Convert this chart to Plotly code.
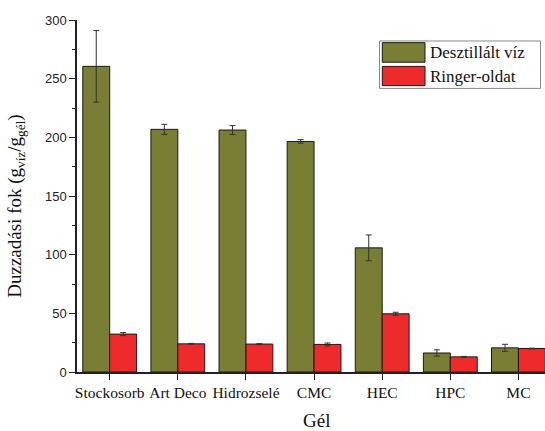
import plotly.graph_objects as go

categories = ["Stockosorb", "Art Deco", "Hidrozselé", "CMC", "HEC", "HPC", "MC"]
desztillalt = [260.5, 206.8, 206.2, 196.5, 105.8, 16.2, 20.6]
desztillalt_err = [30.5, 4.3, 3.8, 1.5, 11.0, 2.7, 3.0]
ringer = [32.3, 24.0, 23.8, 23.5, 49.6, 12.9, 20.0]
ringer_err = [1.3, 0.4, 0.4, 1.2, 1.3, 0.4, 0.3]
series_names = ["Desztillált víz", "Ringer-oldat"]
colors = ["#7a7d34", "#ee2a2a"]

W, H = 545, 431
L, R, T, B = 77, 0, 20, 58.5
pw, ph = W - L - R, H - T - B

def px2paper(x, y):
    return (x - L) / pw, (H - B - y) / ph

fig = go.Figure()
for name, vals, errs, col in [(series_names[0], desztillalt, desztillalt_err, colors[0]),
                              (series_names[1], ringer, ringer_err, colors[1])]:
    fig.add_trace(go.Bar(
        x=categories, y=vals, name=name,
        marker=dict(color=col, line=dict(color="#1a1a1a", width=1)),
        error_y=dict(type="data", array=errs, visible=True, color="#333333", thickness=1, width=3),
        showlegend=False,
    ))

serif = "Liberation Serif, Times New Roman, serif"
sans = "Liberation Sans, Arial, sans-serif"

fig.update_layout(
    width=W, height=H,
    margin=dict(l=L, r=R, t=T, b=B, autoexpand=False),
    paper_bgcolor="white", plot_bgcolor="white",
    barmode="group", bargap=0.21, bargroupgap=0,
    xaxis=dict(
        range=[-0.48, 6.39], showline=True, linecolor="#222", linewidth=1.5,
        ticks="outside", ticklen=6, tickcolor="#222", tickwidth=1,
        tickfont=dict(family=serif, size=15.5, color="#111"),
        showgrid=False, zeroline=False, automargin=False,
    ),
    yaxis=dict(
        range=[0, 300], showline=True, linecolor="#222", linewidth=1.5,
        tickvals=[0, 50, 100, 150, 200, 250, 300],
        ticks="outside", ticklen=6, tickcolor="#222", tickwidth=1,
        minor=dict(tickvals=[25, 75, 125, 175, 225, 275], ticks="outside", ticklen=3, tickcolor="#222"),
        tickfont=dict(family=sans, size=13, color="#222"),
        showgrid=False, zeroline=False, automargin=False,
    ),
)

# axis titles
gx, gy = px2paper(316, 421)
fig.add_annotation(xref="paper", yref="paper", x=gx, y=gy, text="Gél", showarrow=False,
                   xanchor="center", yanchor="middle",
                   font=dict(family=serif, size=19, color="#111"))
yx, yy = px2paper(16, 207)
fig.add_annotation(xref="paper", yref="paper", x=yx, y=yy, textangle=-90, showarrow=False,
                   text="Duzzadási fok (g<sub>víz</sub>/g<sub>gél</sub>)",
                   xanchor="center", yanchor="middle",
                   font=dict(family=serif, size=19, color="#111"))

# custom legend (large swatches like the original)
x0, y0 = px2paper(379.5, 41)
x1, y1 = px2paper(540.5, 88.5)
fig.add_shape(type="rect", xref="paper", yref="paper", x0=x0, y0=y0, x1=x1, y1=y1,
              line=dict(color="#888", width=1), fillcolor="white", layer="above")
sw = [(42.7, 62.3), (66.5, 85.7)]
for (ya, yb), col, name in zip(sw, colors, series_names):
    a0, b0 = px2paper(382.3, ya)
    a1, b1 = px2paper(425, yb)
    fig.add_shape(type="rect", xref="paper", yref="paper", x0=a0, y0=b0, x1=a1, y1=b1,
                  line=dict(color="#1a1a1a", width=1), fillcolor=col, layer="above")
    tx, ty = px2paper(428, (ya + yb) / 2)
    fig.add_annotation(xref="paper", yref="paper", x=tx, y=ty, text=name, showarrow=False,
                       xanchor="left", yanchor="middle",
                       font=dict(family=serif, size=17, color="#111"))

fig.write_html("out.html", config={"displayModeBar": False},
               post_script="document.body.style.margin='0';document.body.style.overflow='hidden';")
